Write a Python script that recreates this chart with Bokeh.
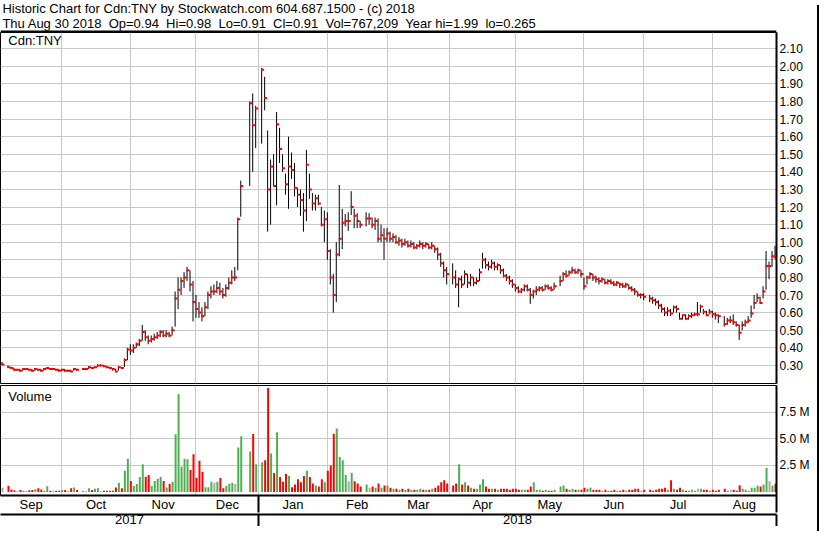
import pandas as pd
from bokeh.plotting import figure
from bokeh.layouts import column, row
from bokeh.models import (Range1d, LinearAxis, FixedTicker, Grid, Span, Label, Div,
                          ColumnDataSource, PrintfTickFormatter, CustomJSTickFormatter)
from bokeh.embed import file_html
from bokeh.resources import INLINE

FONT = "Liberation Sans"
GRID = "#c8c8c8"
SP = " \u00a0"

TITLE1 = "Historic Chart for Cdn:TNY by Stockwatch.com 604.687.1500 - (c) 2018"
TITLE2 = SP.join(["Thu Aug 30 2018", "Op=0.94", "Hi=0.98", "Lo=0.91", "Cl=0.91",
                  "Vol=767,209", "Year hi=1.99", "lo=0.265"])

holidays = ["2017-09-04", "2017-10-09", "2017-12-25", "2017-12-26", "2018-01-01",
            "2018-02-19", "2018-03-30", "2018-05-21", "2018-07-02", "2018-08-06"]
months = ["Sep", "Oct", "Nov", "Dec", "Jan", "Feb", "Mar", "Apr", "May", "Jun", "Jul", "Aug"]
years = ["2017", "2018"]
price_ticks = [0.30, 0.40, 0.50, 0.60, 0.70, 0.80, 0.90, 1.00, 1.10, 1.20, 1.30, 1.40,
               1.50, 1.60, 1.70, 1.80, 1.90, 2.00, 2.10]
vol_ticks = [2.5, 5.0, 7.5]

close = [
    # Sep 2017
    0.305, 0.29, 0.285, 0.275, 0.275, 0.27, 0.28, 0.28, 0.275, 0.27,
    0.28, 0.275, 0.27, 0.28, 0.285, 0.28, 0.28, 0.275, 0.27, 0.275,
    # Oct
    0.27, 0.27, 0.265, 0.28, 0.275, 0.28, 0.28, 0.29, 0.285, 0.29, 0.30,
    0.30, 0.295, 0.29, 0.285, 0.28, 0.265, 0.29, 0.285, 0.33, 0.39,
    # Nov
    0.385, 0.40, 0.42, 0.44, 0.49, 0.46, 0.44, 0.45, 0.46, 0.47, 0.49,
    0.47, 0.48, 0.47, 0.50, 0.68, 0.73, 0.78, 0.80, 0.84, 0.76, 0.66,
    # Dec
    0.62, 0.60, 0.58, 0.63, 0.70, 0.72, 0.72, 0.74, 0.72, 0.70,
    0.74, 0.77, 0.80, 0.80, 1.13, 1.32, 1.79, 1.665, 1.76,
    # Jan 2018
    1.98, 1.82, 1.30, 1.43, 1.32, 1.67, 1.53, 1.42, 1.33, 1.43, 1.41,
    1.31, 1.27, 1.24, 1.18, 1.44, 1.30, 1.22, 1.25, 1.22, 1.10, 1.13,
    # Feb
    0.95, 0.80, 0.70, 0.93, 1.02, 1.11, 1.12, 1.12, 1.20, 1.15,
    1.12, 1.10, 1.135, 1.135, 1.10, 1.12, 1.02, 1.04, 1.02,
    # Mar
    1.05, 1.02, 1.03, 1.00, 1.01, 0.99, 1.00, 0.98, 0.99, 0.97, 0.98,
    0.99, 0.98, 0.99, 0.97, 0.98, 0.96, 0.93, 0.88, 0.84, 0.82,
    # Apr
    0.80, 0.76, 0.79, 0.76, 0.82, 0.77, 0.80, 0.77, 0.78, 0.83, 0.90,
    0.87, 0.86, 0.88, 0.86, 0.87, 0.84, 0.81, 0.80, 0.78, 0.76,
    # May
    0.74, 0.72, 0.73, 0.75, 0.73, 0.70, 0.72, 0.73, 0.74, 0.73, 0.75,
    0.74, 0.73, 0.75, 0.78, 0.82, 0.81, 0.83, 0.84, 0.83, 0.84, 0.82,
    # Jun
    0.75, 0.80, 0.82, 0.80, 0.79, 0.78, 0.79, 0.77, 0.78, 0.77, 0.76,
    0.77, 0.76, 0.75, 0.76, 0.74, 0.73, 0.72, 0.70, 0.70, 0.69,
    # Jul
    0.68, 0.67, 0.66, 0.64, 0.62, 0.60, 0.61, 0.595, 0.63, 0.62, 0.565,
    0.585, 0.565, 0.58, 0.585, 0.59, 0.59, 0.635, 0.605, 0.585, 0.605,
    # Aug
    0.59, 0.585, 0.58, 0.535, 0.555, 0.555, 0.545, 0.53, 0.485, 0.53, 0.545,
    0.555, 0.595, 0.655, 0.685, 0.655, 0.72, 0.865, 0.865, 0.92, 0.91,
]
high = [
    # Sep 2017
    0.32, 0.30, 0.29, 0.285, 0.28, 0.28, 0.285, 0.285, 0.28, 0.28,
    0.285, 0.28, 0.28, 0.285, 0.29, 0.285, 0.285, 0.28, 0.28, 0.28,
    # Oct
    0.28, 0.275, 0.275, 0.285, 0.28, 0.285, 0.285, 0.295, 0.29, 0.295, 0.305,
    0.305, 0.30, 0.295, 0.29, 0.285, 0.28, 0.295, 0.29, 0.34, 0.40,
    # Nov
    0.42, 0.42, 0.43, 0.45, 0.53, 0.50, 0.47, 0.47, 0.48, 0.49, 0.50,
    0.50, 0.50, 0.49, 0.52, 0.72, 0.80, 0.80, 0.83, 0.86, 0.84, 0.78,
    # Dec
    0.70, 0.66, 0.63, 0.66, 0.72, 0.75, 0.76, 0.78, 0.77, 0.74,
    0.76, 0.80, 0.84, 0.86, 1.14, 1.35, 1.80, 1.845, 1.775,
    # Jan 2018
    1.99, 1.94, 1.635, 1.47, 1.50, 1.74, 1.65, 1.50, 1.39, 1.60, 1.51,
    1.45, 1.31, 1.30, 1.28, 1.525, 1.39, 1.28, 1.27, 1.27, 1.20, 1.18,
    # Feb
    1.17, 0.96, 0.82, 1.00, 1.325, 1.19, 1.16, 1.17, 1.29, 1.19,
    1.165, 1.12, 1.17, 1.165, 1.14, 1.14, 1.135, 1.10, 1.08,
    # Mar
    1.08, 1.06, 1.05, 1.04, 1.03, 1.02, 1.02, 1.01, 1.01, 1.00, 0.99,
    1.01, 1.00, 1.00, 0.99, 1.00, 0.98, 0.97, 0.94, 0.89, 0.86,
    # Apr
    0.88, 0.84, 0.80, 0.81, 0.84, 0.82, 0.82, 0.80, 0.80, 0.85, 0.94,
    0.91, 0.89, 0.90, 0.89, 0.88, 0.87, 0.85, 0.82, 0.81, 0.79,
    # May
    0.76, 0.75, 0.74, 0.76, 0.76, 0.74, 0.73, 0.75, 0.75, 0.75, 0.76,
    0.76, 0.75, 0.77, 0.81, 0.83, 0.84, 0.84, 0.86, 0.85, 0.85, 0.84,
    # Jun
    0.80, 0.81, 0.83, 0.82, 0.81, 0.80, 0.80, 0.79, 0.79, 0.79, 0.78,
    0.78, 0.77, 0.77, 0.77, 0.76, 0.75, 0.74, 0.72, 0.71, 0.71,
    # Jul
    0.70, 0.69, 0.68, 0.67, 0.65, 0.63, 0.63, 0.62, 0.64, 0.64, 0.60,
    0.59, 0.59, 0.59, 0.60, 0.60, 0.66, 0.645, 0.62, 0.61, 0.62,
    # Aug
    0.61, 0.60, 0.59, 0.58, 0.57, 0.58, 0.59, 0.55, 0.53, 0.55, 0.56,
    0.58, 0.64, 0.70, 0.71, 0.69, 0.75, 0.95, 0.89, 0.95, 0.98,
]
low = [
    # Sep 2017
    0.30, 0.285, 0.28, 0.27, 0.27, 0.265, 0.27, 0.275, 0.27, 0.265,
    0.27, 0.27, 0.265, 0.27, 0.28, 0.275, 0.275, 0.27, 0.265, 0.27,
    # Oct
    0.265, 0.265, 0.265, 0.27, 0.27, 0.275, 0.275, 0.28, 0.28, 0.285, 0.29,
    0.295, 0.29, 0.285, 0.28, 0.27, 0.265, 0.27, 0.28, 0.29, 0.33,
    # Nov
    0.36, 0.37, 0.40, 0.41, 0.44, 0.44, 0.42, 0.43, 0.44, 0.45, 0.46,
    0.46, 0.46, 0.46, 0.47, 0.52, 0.62, 0.70, 0.74, 0.78, 0.72, 0.55,
    # Dec
    0.57, 0.57, 0.55, 0.58, 0.62, 0.68, 0.70, 0.71, 0.70, 0.68,
    0.69, 0.73, 0.76, 0.78, 0.84, 1.145, 1.32, 1.40, 1.535,
    # Jan 2018
    1.56, 1.75, 1.06, 1.10, 1.32, 1.21, 1.45, 1.40, 1.27, 1.19, 1.36,
    1.26, 1.20, 1.15, 1.06, 1.12, 1.245, 1.18, 1.18, 1.21, 1.09, 1.00,
    # Feb
    0.90, 0.76, 0.60, 0.66, 0.92, 0.96, 1.09, 1.065, 1.155, 1.08,
    1.08, 1.08, 1.09, 1.10, 1.08, 1.07, 1.00, 1.00, 0.90,
    # Mar
    1.00, 1.00, 1.00, 0.99, 0.98, 0.97, 0.98, 0.97, 0.97, 0.96, 0.96,
    0.97, 0.96, 0.97, 0.96, 0.96, 0.94, 0.90, 0.86, 0.80, 0.76,
    # Apr
    0.76, 0.74, 0.63, 0.74, 0.76, 0.74, 0.75, 0.75, 0.76, 0.78, 0.85,
    0.85, 0.84, 0.85, 0.84, 0.84, 0.82, 0.80, 0.78, 0.76, 0.74,
    # May
    0.72, 0.71, 0.71, 0.72, 0.72, 0.65, 0.68, 0.70, 0.72, 0.72, 0.73,
    0.73, 0.72, 0.73, 0.75, 0.78, 0.80, 0.81, 0.82, 0.82, 0.82, 0.80,
    # Jun
    0.73, 0.76, 0.79, 0.78, 0.77, 0.76, 0.77, 0.76, 0.76, 0.76, 0.75,
    0.75, 0.74, 0.74, 0.74, 0.73, 0.72, 0.70, 0.69, 0.68, 0.67,
    # Jul
    0.66, 0.65, 0.64, 0.62, 0.60, 0.58, 0.58, 0.58, 0.60, 0.60, 0.56,
    0.56, 0.56, 0.56, 0.57, 0.58, 0.58, 0.60, 0.59, 0.58, 0.59,
    # Aug
    0.57, 0.56, 0.54, 0.52, 0.53, 0.54, 0.53, 0.52, 0.445, 0.50, 0.52,
    0.54, 0.57, 0.62, 0.66, 0.65, 0.68, 0.73, 0.79, 0.86, 0.91,
]
volume_m = [
    # Sep 2017
    0.40, 0.58, 0.22, 0.16, 0.05, 0.19, 0.10, 0.08, 0.16, 0.19,
    0.26, 0.35, 0.22, 0.12, 0.54, 0.10, 0.10, 0.10, 0.10, 0.19,
    # Oct
    0.19, 0.08, 0.35, 0.42, 0.19, 0.10, 0.05, 0.35, 0.19, 0.29, 0.35,
    0.05, 0.10, 0.10, 0.10, 0.10, 0.42, 0.87, 0.35, 1.99, 3.14,
    # Nov
    1.03, 0.55, 0.74, 1.41, 2.60, 1.44, 1.60, 0.55, 1.03, 1.25, 1.41,
    1.03, 0.42, 0.74, 0.96, 5.45, 9.23, 2.37, 3.14, 3.08, 2.08, 3.56,
    # Dec
    1.31, 2.95, 1.89, 0.45, 0.45, 0.96, 0.87, 0.96, 1.31, 0.35,
    0.55, 0.77, 0.87, 0.74, 4.20, 5.26, 3.81, 5.48, 2.60,
    # Jan 2018
    2.79, 2.98, 9.81, 3.62, 1.79, 5.64, 1.41, 0.96, 1.70, 1.50, 0.45,
    0.70, 1.20, 0.90, 1.50, 2.00, 1.40, 0.80, 0.60, 0.50, 1.20, 0.90,
    # Feb
    2.00, 2.50, 5.50, 6.00, 3.30, 3.00, 1.60, 1.00, 1.80, 1.00,
    0.80, 0.50, 0.70, 0.40, 0.50, 0.40, 0.80, 0.40, 0.60,
    # Mar
    0.60, 0.40, 0.30, 0.30, 0.20, 0.30, 0.20, 0.30, 0.20, 0.20, 0.20,
    0.30, 0.20, 0.20, 0.20, 0.30, 0.40, 0.60, 0.90, 1.10, 0.80,
    # Apr
    0.60, 0.80, 2.60, 0.70, 0.90, 0.60, 0.40, 0.30, 0.30, 0.70, 1.20,
    0.50, 0.30, 0.30, 0.30, 0.20, 0.30, 0.30, 0.30, 0.20, 0.30,
    # May
    0.30, 0.20, 0.20, 0.20, 0.20, 0.50, 0.90, 0.20, 0.20, 0.10, 0.20,
    0.10, 0.10, 0.20, 0.50, 0.60, 0.30, 0.20, 0.30, 0.20, 0.20, 0.20,
    # Jun
    0.40, 0.30, 0.40, 0.20, 0.20, 0.20, 0.10, 0.20, 0.10, 0.10, 0.20,
    0.10, 0.10, 0.20, 0.10, 0.20, 0.20, 0.30, 0.30, 0.10, 0.20,
    # Jul
    0.20, 0.10, 0.20, 0.30, 0.30, 0.40, 0.20, 1.10, 0.30, 0.20, 0.40,
    0.20, 0.10, 0.10, 0.20, 0.10, 0.30, 0.30, 0.20, 0.20, 0.10,
    # Aug
    0.20, 0.10, 0.20, 0.30, 0.10, 0.20, 0.20, 0.10, 0.63, 0.30, 0.20,
    0.10, 0.40, 0.40, 0.60, 0.50, 0.70, 2.29, 1.00, 0.60, 0.767,
]

# ---- calendar positions (one slot per weekday; holidays leave gaps) ----
weekdays = pd.bdate_range("2017-09-01", "2018-08-30")
hol = set(pd.to_datetime(holidays))
slot_of = {d: i for i, d in enumerate(weekdays)}
days = [d for d in weekdays if d not in hol]
xs = [slot_of[d] for d in days]


def slot_at(date):
    return max(i for i, d in enumerate(weekdays) if d <= date)


X0, X1 = -0.5, len(weekdays) - 0.5          # 3 px per weekday slot
PX = 1.0 / 3.0                               # one pixel in slot units
bounds = [slot_at(d) for d in pd.date_range("2017-10-01", "2018-08-01", freq="MS")]
edges = [X0] + bounds + [X1]
month_centers = [(a + b) / 2 for a, b in zip(edges[:-1], edges[1:])]
jan = slot_at(pd.Timestamp("2018-01-01"))
year_centers = [(X0 + jan) / 2, (jan + X1) / 2]
separators = [jan - PX / 2, X1 - 0.001]

vcol = []
for i, c in enumerate(close):
    if i == 0 or c == close[i - 1]:
        vcol.append("#a8a8a8")
    elif c > close[i - 1]:
        vcol.append("#4caf50")
    else:
        vcol.append("#ff0000")

src = ColumnDataSource(dict(
    x=xs, xv=[v + PX / 2 for v in xs],
    xt0=[v - PX / 2 for v in xs], xt1=[v + 2.5 * PX for v in xs],
    high=high, low=low, close=close, vol=volume_m, vcol=vcol))

xr = Range1d(X0, X1)
W = 812
RIGHT = 32

# ---- title strip ----
tf = figure(width=W, height=32, x_range=Range1d(0, W), y_range=Range1d(32, 0),
            toolbar_location=None, output_backend="svg", x_axis_type=None, y_axis_type=None,
            min_border=0, outline_line_color=None)
tf.add_layout(Label(x=2, y=0, text=TITLE1, text_baseline="top", text_font=FONT,
                    text_font_size="13px", text_color="black"))
tf.add_layout(Label(x=2, y=15, text=TITLE2, text_baseline="top", text_font=FONT,
                    text_font_size="13px", text_color="black"))
tf.add_layout(Span(location=31, dimension="width", line_color="black", line_width=2))

# ---- price panel ----
pf = figure(width=W, height=352, x_range=xr, y_range=Range1d(0.197, 2.192),
            toolbar_location=None, output_backend="svg", x_axis_type=None,
            y_axis_location="right", min_border_left=0, min_border_right=RIGHT,
            min_border_top=0, min_border_bottom=1, outline_line_color="black")
pt = FixedTicker(ticks=price_ticks)
pf.yaxis.ticker = pt
pf.yaxis.formatter = PrintfTickFormatter(format="%.2f")
pf.ygrid.ticker = pt
pf.ygrid.grid_line_color = GRID
pf.add_layout(Grid(dimension=0, ticker=FixedTicker(ticks=bounds), grid_line_color=GRID))
pf.segment(x0="x", y0="low", x1="x", y1="high", source=src, line_color="black", line_width=1)
pf.segment(x0="xt0", y0="close", x1="xt1", y1="close", source=src, line_color="red", line_width=2)
pf.add_layout(Label(x=2.1, y=2.189, text="Cdn:TNY", text_baseline="top", text_font=FONT,
                    text_font_size="13px", text_color="black"))

# ---- volume panel ----
vf = figure(width=W, height=142, x_range=xr, y_range=Range1d(-0.34, 10.05),
            toolbar_location=None, output_backend="svg", x_axis_type=None,
            y_axis_location="right", min_border_left=0, min_border_right=RIGHT,
            min_border_top=1, min_border_bottom=0, outline_line_color="black")
vt = FixedTicker(ticks=vol_ticks)
vf.yaxis.ticker = vt
vf.yaxis.formatter = PrintfTickFormatter(format="%.1f M")
vf.ygrid.ticker = vt
vf.ygrid.grid_line_color = GRID
vf.add_layout(Grid(dimension=0, ticker=FixedTicker(ticks=bounds), grid_line_color=GRID))
vf.vbar(x="xv", top="vol", bottom=0, width=2 * PX, source=src, fill_color="vcol", line_color=None)
vf.add_layout(Label(x=2.1, y=9.75, text="Volume", text_baseline="top", text_font=FONT,
                    text_font_size="13px", text_color="black"))

for ax in (pf.yaxis[0], vf.yaxis[0]):
    ax.axis_line_width = 2
    ax.axis_line_color = "black"
    ax.major_tick_out = 0
    ax.major_tick_in = 0
    ax.minor_tick_out = 0
    ax.minor_tick_in = 0
    ax.major_label_standoff = 3
    ax.major_label_text_font = FONT
    ax.major_label_text_font_size = "12px"
    ax.major_label_text_color = "black"

nearest = """
let best = 0, bd = 1e9;
for (let i = 0; i < pos.length; i++) { const d = Math.abs(pos[i] - tick); if (d < bd) { bd = d; best = i; } }
return names[best];
"""
month_axis = LinearAxis(
    ticker=FixedTicker(ticks=month_centers, minor_ticks=separators),
    formatter=CustomJSTickFormatter(args=dict(pos=month_centers, names=months), code=nearest))
year_axis = LinearAxis(
    ticker=FixedTicker(ticks=year_centers, minor_ticks=separators),
    formatter=CustomJSTickFormatter(args=dict(pos=year_centers, names=years), code=nearest))
for ax, out, gap in ((month_axis, 17, 1), (year_axis, 16, 0)):
    ax.axis_line_width = 2
    ax.axis_line_color = "black"
    ax.major_tick_out = 0
    ax.major_tick_in = 0
    ax.major_tick_line_color = None
    ax.minor_tick_out = out
    ax.minor_tick_in = 0
    ax.minor_tick_line_width = 2
    ax.minor_tick_line_color = "black"
    ax.major_label_standoff = gap - out
    ax.major_label_text_font = FONT
    ax.major_label_text_font_size = "13px"
    ax.major_label_text_color = "black"
    vf.add_layout(ax, "below")

border = Div(text='<div style="width:2px;height:526px;background:#000"></div>',
             width=2, height=526)

layout = row(column(tf, pf, vf), border)
open("out.html", "w").write(file_html(layout, INLINE))
